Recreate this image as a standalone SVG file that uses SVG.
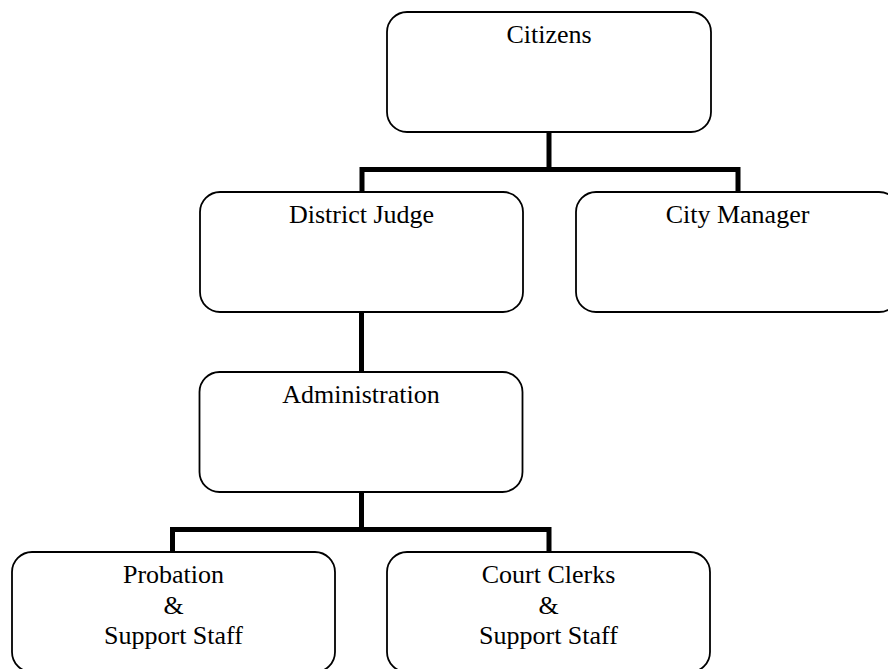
<svg xmlns="http://www.w3.org/2000/svg" width="888" height="669" viewBox="0 0 888 669">
<style>
.box{fill:#fff;stroke:#000;stroke-width:1.8}
.lbl{font-family:"Liberation Serif","Times New Roman",serif;font-size:26px;fill:#000;text-anchor:middle}
.conn{fill:none;stroke:#000;stroke-width:5;stroke-linejoin:miter;stroke-linecap:butt}
</style>
<rect width="888" height="669" fill="#fff"/>
<g id="connectors">
<path class="conn" d="M549,132 V169.5"/>
<path class="conn" d="M362,192 V169.5 H738 V192"/>
<path class="conn" d="M361.5,312 V372"/>
<path class="conn" d="M361.5,492 V529.5"/>
<path class="conn" d="M172.5,552 V529.5 H549 V552"/>
</g>
<g id="citizens">
<rect class="box" x="387" y="12" width="324" height="120" rx="20"/>
<text class="lbl" x="549" y="43">Citizens</text>
</g>
<g id="district-judge">
<rect class="box" x="200" y="192" width="323" height="120" rx="20"/>
<text class="lbl" x="361.5" y="223">District Judge</text>
</g>
<g id="city-manager">
<rect class="box" x="576" y="192" width="323" height="120" rx="20"/>
<text class="lbl" x="737.5" y="223">City Manager</text>
</g>
<g id="administration">
<rect class="box" x="199.5" y="372" width="323" height="120" rx="20"/>
<text class="lbl" x="361" y="403">Administration</text>
</g>
<g id="probation">
<rect class="box" x="12" y="552" width="323" height="120" rx="20"/>
<text class="lbl" x="173.5" y="583">Probation</text>
<text class="lbl" x="173.5" y="614">&amp;</text>
<text class="lbl" x="173.5" y="644">Support Staff</text>
</g>
<g id="court-clerks">
<rect class="box" x="387" y="552" width="323" height="120" rx="20"/>
<text class="lbl" x="548.5" y="583">Court Clerks</text>
<text class="lbl" x="548.5" y="614">&amp;</text>
<text class="lbl" x="548.5" y="644">Support Staff</text>
</g>
</svg>
